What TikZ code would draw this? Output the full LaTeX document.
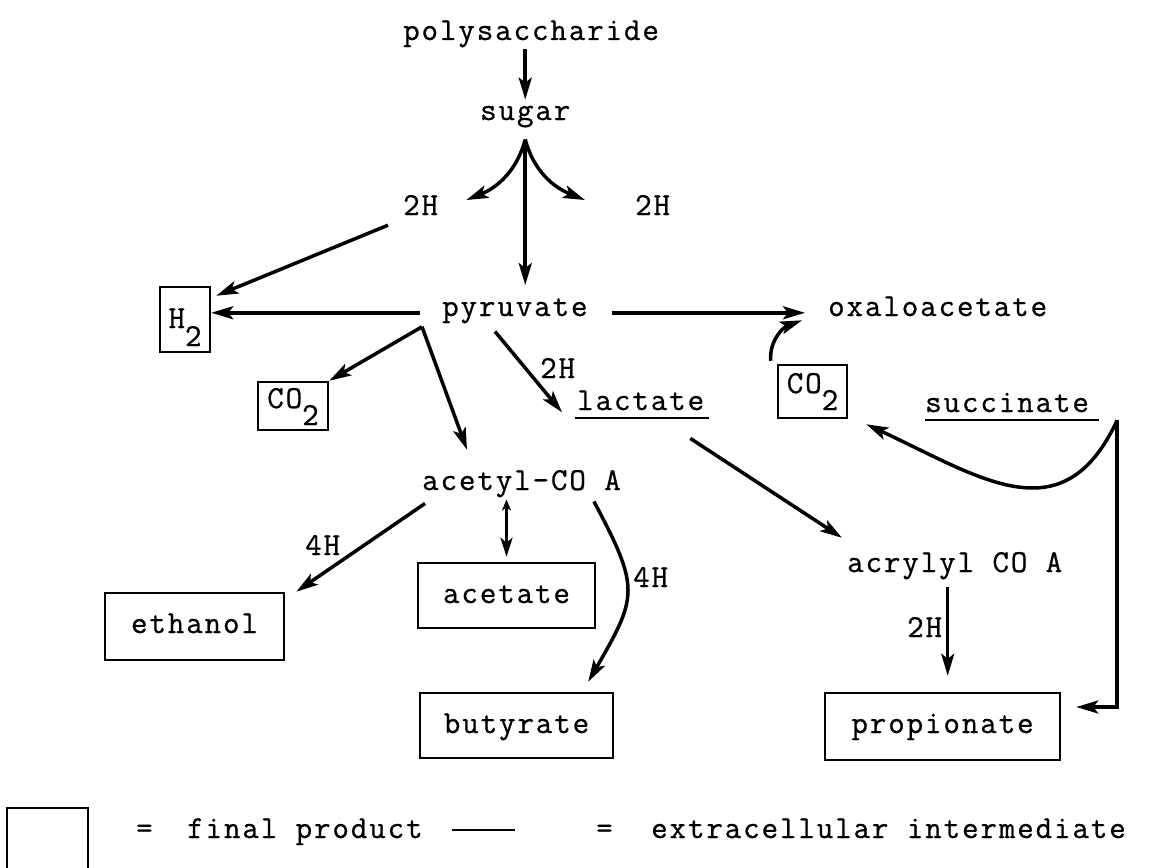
\documentclass[tikz,border=0pt]{standalone}
\usepackage{fontspec}
\usepackage{tikz}
\usetikzlibrary{arrows.meta}
\newfontfamily\typewr{Latin Modern Mono}[LetterSpace=6.0, FakeBold=0.8]
\newcommand{\pathfont}{\typewr\fontsize{32pt}{38pt}\selectfont}

\begin{document}
\begin{tikzpicture}[x=1pt, y=-1pt,
        txt/.style={inner sep=2pt, anchor=base west, font=\pathfont},
        final/.style={draw, line width=2.5pt, inner sep=2pt, font=\pathfont},
        arr/.style={line width=3.5pt, -{Stealth[length=22pt,width=13pt,inset=5pt]}},
        arrtwo/.style={line width=3.5pt, {Stealth[length=11pt,width=9pt,inset=3pt]}-{Stealth[length=19pt,width=12pt,inset=5pt]}},
        uline/.style={line width=2pt}]
        \useasboundingbox (0,0) rectangle (1153,867);

        \node[txt] (poly) at (401,40) {polysaccharide};
        \node[txt] (sug) at (478,120) {sugar};
        \node[txt] (hA) at (401,215) {2H};
        \node[txt] (hB) at (633,215) {2H};
        \node[txt] (pyr) at (440,316) {pyruvate};
        \node[txt] (oxa) at (826,316) {oxaloacetate};
        \node[txt] (hC) at (538,378) {2H};
        \node[txt] (lac) at (575,410) {lactate};
        \node[txt] (suc) at (923,412) {succinate};
        \node[txt] (ace) at (420,490) {acetyl-CO A};
        \node[txt] (acr) at (845,572) {acrylyl CO A};
        \node[txt] (hD) at (303,555) {4H};
        \node[txt] (hE) at (631,587) {4H};
        \node[txt] (hF) at (905,637) {2H};

        \node[final, minimum width=50pt, minimum height=65pt, text height=35pt, text depth=18pt] (h2) at (185,319.5) {H\raisebox{-18pt}{2}};
        \node[final, minimum width=70pt, minimum height=48pt, text height=20pt, text depth=16pt] (co2a) at (293,406) {CO\raisebox{-17pt}{2}};
        \node[final, minimum width=69pt, minimum height=53pt, text height=20pt, text depth=17pt] (co2b) at (812.5,391.5) {CO\raisebox{-17pt}{2}};
        \node[final, minimum width=179pt, minimum height=67pt, text height=19pt, text depth=6pt] (eth) at (194.5,626.5) {ethanol};
        \node[final, minimum width=177pt, minimum height=65pt, text height=19pt, text depth=4pt] (acet) at (506.5,595.5) {acetate};
        \node[final, minimum width=193pt, minimum height=65pt, text height=19pt, text depth=4pt] (but) at (516.5,725.5) {butyrate};
        \node[final, minimum width=235pt, minimum height=67pt, text height=19pt, text depth=6pt] (prop) at (942.5,726.5) {propionate};

        \draw[uline] ([yshift=-6pt]lac.south west) -- ([yshift=-6pt,xshift=3pt]lac.south east);
        \draw[uline] ([yshift=-6pt,xshift=2pt]suc.south west) -- ([yshift=-6pt,xshift=8pt]suc.south east);

        \draw[arr, shorten >=4pt] (poly.south -| sug.north) -- (sug.north);
        \coordinate (fork) at ([yshift=-10pt]sug.south);
        \draw[arr, shorten >=11pt] (fork) -- (fork |- pyr.north);
        \draw[arr] (fork) to[out=-105,in=22] ([xshift=26pt,yshift=5pt]hA.east);
        \draw[arr] (fork) to[out=-75,in=158] ([xshift=-48pt,yshift=5pt]hB.west);

        \draw[arr] ([xshift=-13pt,yshift=-8pt]hA.south west) -- ([xshift=5pt,yshift=-10pt]h2.north east);
        \coordinate (pw) at ([xshift=-20pt,yshift=-2pt]pyr.west);
        \draw[arr] (pw) -- (pw -| h2.east);
        \coordinate (pv) at ([xshift=-18pt,yshift=-16pt]pyr.west);
        \draw[arr] (pv) -- (co2a.north east);
        \draw[arr] (pv) -- ([xshift=47pt,yshift=18pt]ace.north west);
        \draw[arr] ([xshift=55pt,yshift=-6pt]pyr.south west) -- ([xshift=-13pt,yshift=-12pt]lac.west);
        \coordinate (pe) at ([xshift=22pt,yshift=-2pt]pyr.east);
        \draw[arr, shorten >=21pt] (pe) -- (pe -| oxa.west);
        \draw[arr] ([xshift=-6pt,yshift=3pt]co2b.north west) to[out=95,in=200] ([xshift=-24pt,yshift=-14pt]oxa.west);

        \draw[arr] ([xshift=-16pt,yshift=-26pt]lac.south east) -- ([xshift=-3pt,yshift=12pt]acr.north west);
        \coordinate (sc) at ([xshift=26pt,yshift=-6pt]suc.south east);
        \draw[arr] (sc) to[out=-115,in=-25,looseness=1.3] ([xshift=18pt,yshift=-5pt]co2b.south east);
        \draw[arr] (sc) |- ([xshift=15pt,yshift=19.5pt]prop.east);
        \coordinate (as) at ([xshift=-7pt,yshift=-5pt]acr.south);
        \draw[arr, shorten >=16pt] (as) -- (as |- prop.north);

        \draw[arr] ([xshift=5pt,yshift=-4pt]ace.south west) -- ([xshift=11pt]eth.north east);
        \draw[arrtwo, shorten >=5pt] (ace.south -| acet.north) -- (acet.north);
        \draw[arr] ([xshift=-29pt,yshift=-2pt]ace.south east) to[out=-62,in=60,looseness=1.4] ([xshift=-26pt,yshift=10pt]but.north east);

        \draw[line width=2.5pt] (7,870) -- (7,808) -- (88,808) -- (88,870);
        \node[txt] (eqA) at (134,838) {=};
        \node[txt] (fin) at (185,838) {final product};
        \node[txt] (eqB) at (594,838) {=};
        \node[txt] (ext) at (649,838) {extracellular intermediate};
        \draw[uline] ([xshift=27pt,yshift=8pt]fin.base east) -- ([xshift=-79pt,yshift=8pt]eqB.base west);
\end{tikzpicture}
\end{document}
